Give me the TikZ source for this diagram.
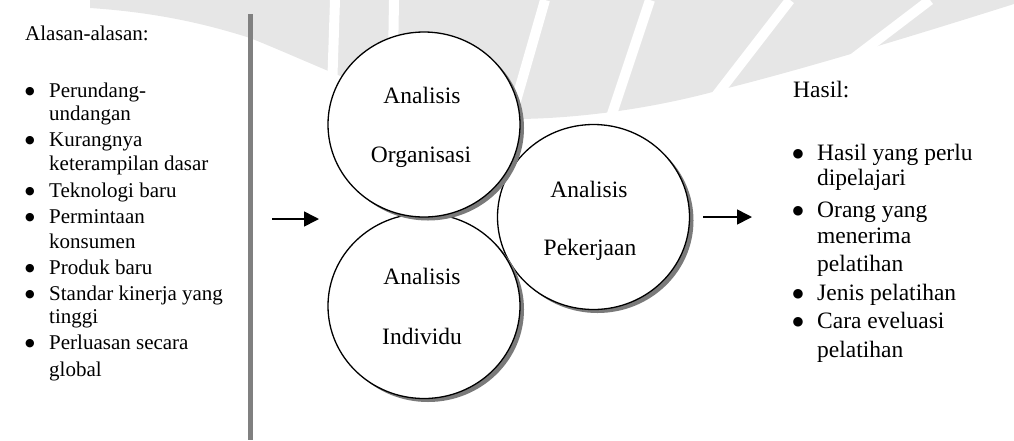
\documentclass[tikz,border=0pt]{standalone}
\usepackage{fontspec}
\setmainfont{Liberation Serif}
\newfontfamily\bulfont{DejaVu Sans}
\usetikzlibrary{arrows.meta,shapes.geometric,shadows}
\definecolor{wmgray}{HTML}{E6E6E6}
\definecolor{bargray}{HTML}{808080}
\definecolor{shgray}{HTML}{7A7A7A}
\begin{document}
\begin{tikzpicture}[x=1pt,y=-1pt,
  ltxt/.style={anchor=base west,inner sep=0pt,font=\fontsize{21}{25}\selectfont},
  lbul/.style={anchor=base,inner sep=0pt,yshift=2.6pt,font=\bulfont\fontsize{11}{12}\selectfont},
  rtxt/.style={anchor=base west,inner sep=0pt,font=\fontsize{23.5}{28}\selectfont},
  rbul/.style={anchor=base,inner sep=0pt,yshift=2.6pt,font=\bulfont\fontsize{12.5}{14}\selectfont},
  ctxt/.style={anchor=base,inner sep=0pt,font=\fontsize{23.5}{28}\selectfont},
  bubble/.style={ellipse,draw=black,fill=white,line width=1.3pt,inner sep=0pt,
    minimum width=192pt,minimum height=185pt,
    drop shadow={shadow xshift=4pt,shadow yshift=-3.5pt,fill=shgray,opacity=1}},
  flow/.style={line width=1.6pt,-{Triangle[length=15pt,width=15pt]}}
]
\useasboundingbox (0,0) rectangle (1014,440);
% faint watermark
\fill[wmgray] (90,0) -- (1014,0) -- (1014,4) .. controls (900,40) and (800,70) .. (720,90)
  .. controls (640,112) and (560,120) .. (500,119) .. controls (420,117) and (330,70) .. (250,38)
  .. controls (200,22) and (150,12) .. (90,8) -- cycle;
\begin{scope}[white,line width=10pt]
\draw (335,0) -- (331,120);
\draw (394,0) -- (392,120);
\draw (545,0) -- (510,122);
\draw (650,0) -- (610,120);
\draw (790,0) -- (705,110);
\draw (930,0) -- (825,80);
\end{scope}
% separator bar
\coordinate (bartop) at (250.5,14);
\coordinate (barbot) at (250.5,440);
\draw[bargray,line width=4.5pt] (bartop) -- (barbot);
% left list
\node[ltxt] (lh) at (25,40) {Alasan-alasan:};
\node[lbul] (lb1) at (30,97) {●};
\node[ltxt] (l1a) at (49,97) {Perundang-};
\node[ltxt] (l1b) at (49,120) {undangan};
\node[lbul] (lb2) at (30,146) {●};
\node[ltxt] (l2a) at (49,146) {Kurangnya};
\node[ltxt] (l2b) at (49,170) {keterampilan dasar};
\node[lbul] (lb3) at (30,197) {●};
\node[ltxt] (l3a) at (49,197) {Teknologi baru};
\node[lbul] (lb4) at (30,223) {●};
\node[ltxt] (l4a) at (49,223) {Permintaan};
\node[ltxt] (l4b) at (49,248) {konsumen};
\node[lbul] (lb5) at (30,274) {●};
\node[ltxt] (l5a) at (49,274) {Produk baru};
\node[lbul] (lb6) at (30,300) {●};
\node[ltxt] (l6a) at (49,300) {Standar kinerja yang};
\node[ltxt] (l6b) at (49,323) {tinggi};
\node[lbul] (lb7) at (30,349) {●};
\node[ltxt] (l7a) at (49,349) {Perluasan secara};
\node[ltxt] (l7b) at (49,376) {global};
% circles
\node[bubble] (P) at (593.5,217) {};
\node[bubble] (I) at (424,306) {};
\node[bubble] (O) at (424,124.5) {};
\node[ctxt] (Ot1) at (422,103) {Analisis};
\node[ctxt] (Ot2) at (421,162) {Organisasi};
\node[ctxt] (It1) at (422,284) {Analisis};
\node[ctxt] (It2) at (422,344) {Individu};
\node[ctxt] (Pt1) at (589,197) {Analisis};
\node[ctxt] (Pt2) at (590,255) {Pekerjaan};
% arrows
\coordinate (a1s) at (272,219);
\coordinate (a1e) at (319,219);
\coordinate (a2s) at (703,217);
\coordinate (a2e) at (752,217);
\draw[flow] (a1s) -- (a1e);
\draw[flow] (a2s) -- (a2e);
% right list
\node[rtxt] (rh) at (793,97) {Hasil:};
\node[rbul] (rb1) at (798,160) {●};
\node[rtxt] (r1a) at (817,160) {Hasil yang perlu};
\node[rtxt] (r1b) at (817,185) {dipelajari};
\node[rbul] (rb2) at (798,217) {●};
\node[rtxt] (r2a) at (817,217) {Orang yang};
\node[rtxt] (r2b) at (817,243) {menerima};
\node[rtxt] (r2c) at (817,271) {pelatihan};
\node[rbul] (rb3) at (798,300) {●};
\node[rtxt] (r3a) at (817,300) {Jenis pelatihan};
\node[rbul] (rb4) at (798,328) {●};
\node[rtxt] (r4a) at (817,328) {Cara eveluasi};
\node[rtxt] (r4b) at (817,357) {pelatihan};
\end{tikzpicture}
\end{document}
